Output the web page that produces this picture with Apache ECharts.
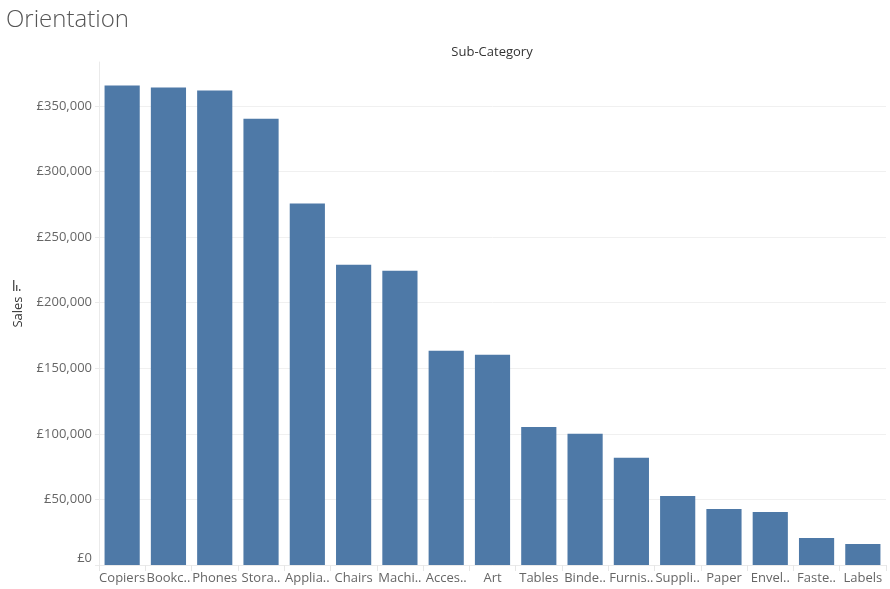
<!DOCTYPE html>
<html>
<head>
<meta charset="utf-8">
<script src="https://cdn.jsdelivr.net/npm/echarts@6/dist/echarts.min.js"></script>
<style>html,body{margin:0;padding:0;background:#fff}#c{width:890px;height:589px}</style>
</head>
<body>
<div id="c"></div>
<script>
var categories = ['Copiers','Bookc..','Phones','Stora..','Applia..','Chairs','Machi..','Acces..','Art','Tables','Binde..','Furnis..','Suppli..','Paper','Envel..','Faste..','Labels'];
var sales = [365600, 364100, 361800, 340400, 275600, 229000, 224400, 163400, 160300, 105300, 100000, 81700, 52700, 42700, 40500, 20600, 16000];
var yTicks = [0, 50000, 100000, 150000, 200000, 250000, 300000, 350000];

var chart = echarts.init(document.getElementById('c'));
var font = '"Open Sans", "Noto Sans", sans-serif';
chart.setOption({
  animation: false,
  title: {
    text: 'Orientation', left: 1, top: 3,
    textStyle: {fontFamily: font, fontSize: 24, fontWeight: 300, color: '#555'}
  },
  graphic: [
    {type: 'text', x: 492, y: 52,
     style: {text: 'Sub-Category', font: '13px ' + font, fill: '#333', align: 'center', verticalAlign: 'middle'}},
    {type: 'text', x: 18, y: 312, rotation: Math.PI / 2,
     style: {text: 'Sales', font: '13px ' + font, fill: '#333', align: 'center', verticalAlign: 'middle'}},
    {type: 'rect', shape: {x: 13, y: 280, width: 1.4, height: 11}, style: {fill: '#555'}},
    {type: 'rect', shape: {x: 16, y: 285, width: 1.4, height: 6}, style: {fill: '#555'}},
    {type: 'rect', shape: {x: 19, y: 289, width: 1.4, height: 2}, style: {fill: '#555'}}
  ],
  grid: {left: 99, right: 4, top: 62, bottom: 24, containLabel: false, outerBoundsMode: 'none'},
  xAxis: {
    type: 'category', data: categories,
    axisLine: {show: true, lineStyle: {color: '#eaeaea'}},
    axisTick: {show: true, length: 6, lineStyle: {color: '#e6e6e6'}},
    axisLabel: {fontFamily: font, fontSize: 13, color: '#666', margin: 7, interval: 0},
    splitLine: {show: false}
  },
  yAxis: {
    type: 'value', min: 0, max: 383600, interval: 50000,
    axisLine: {show: true, lineStyle: {color: '#eaeaea'}},
    axisTick: {show: true, length: 4, lineStyle: {color: '#eaeaea'}},
    axisLabel: {
      fontFamily: font, fontSize: 13, color: '#666', margin: 7,
      showMaxLabel: false, verticalAlignMinLabel: 'bottom',
      formatter: function (v) { return yTicks.indexOf(v) >= 0 ? '£' + v.toLocaleString('en-GB') : ''; }
    },
    splitLine: {show: true, showMaxLine: false, lineStyle: {color: '#f0f0f0'}}
  },
  series: [{
    type: 'bar', data: sales, barCategoryGap: '24%',
    itemStyle: {color: '#4e79a7'}
  }]
});
</script>
</body>
</html>
